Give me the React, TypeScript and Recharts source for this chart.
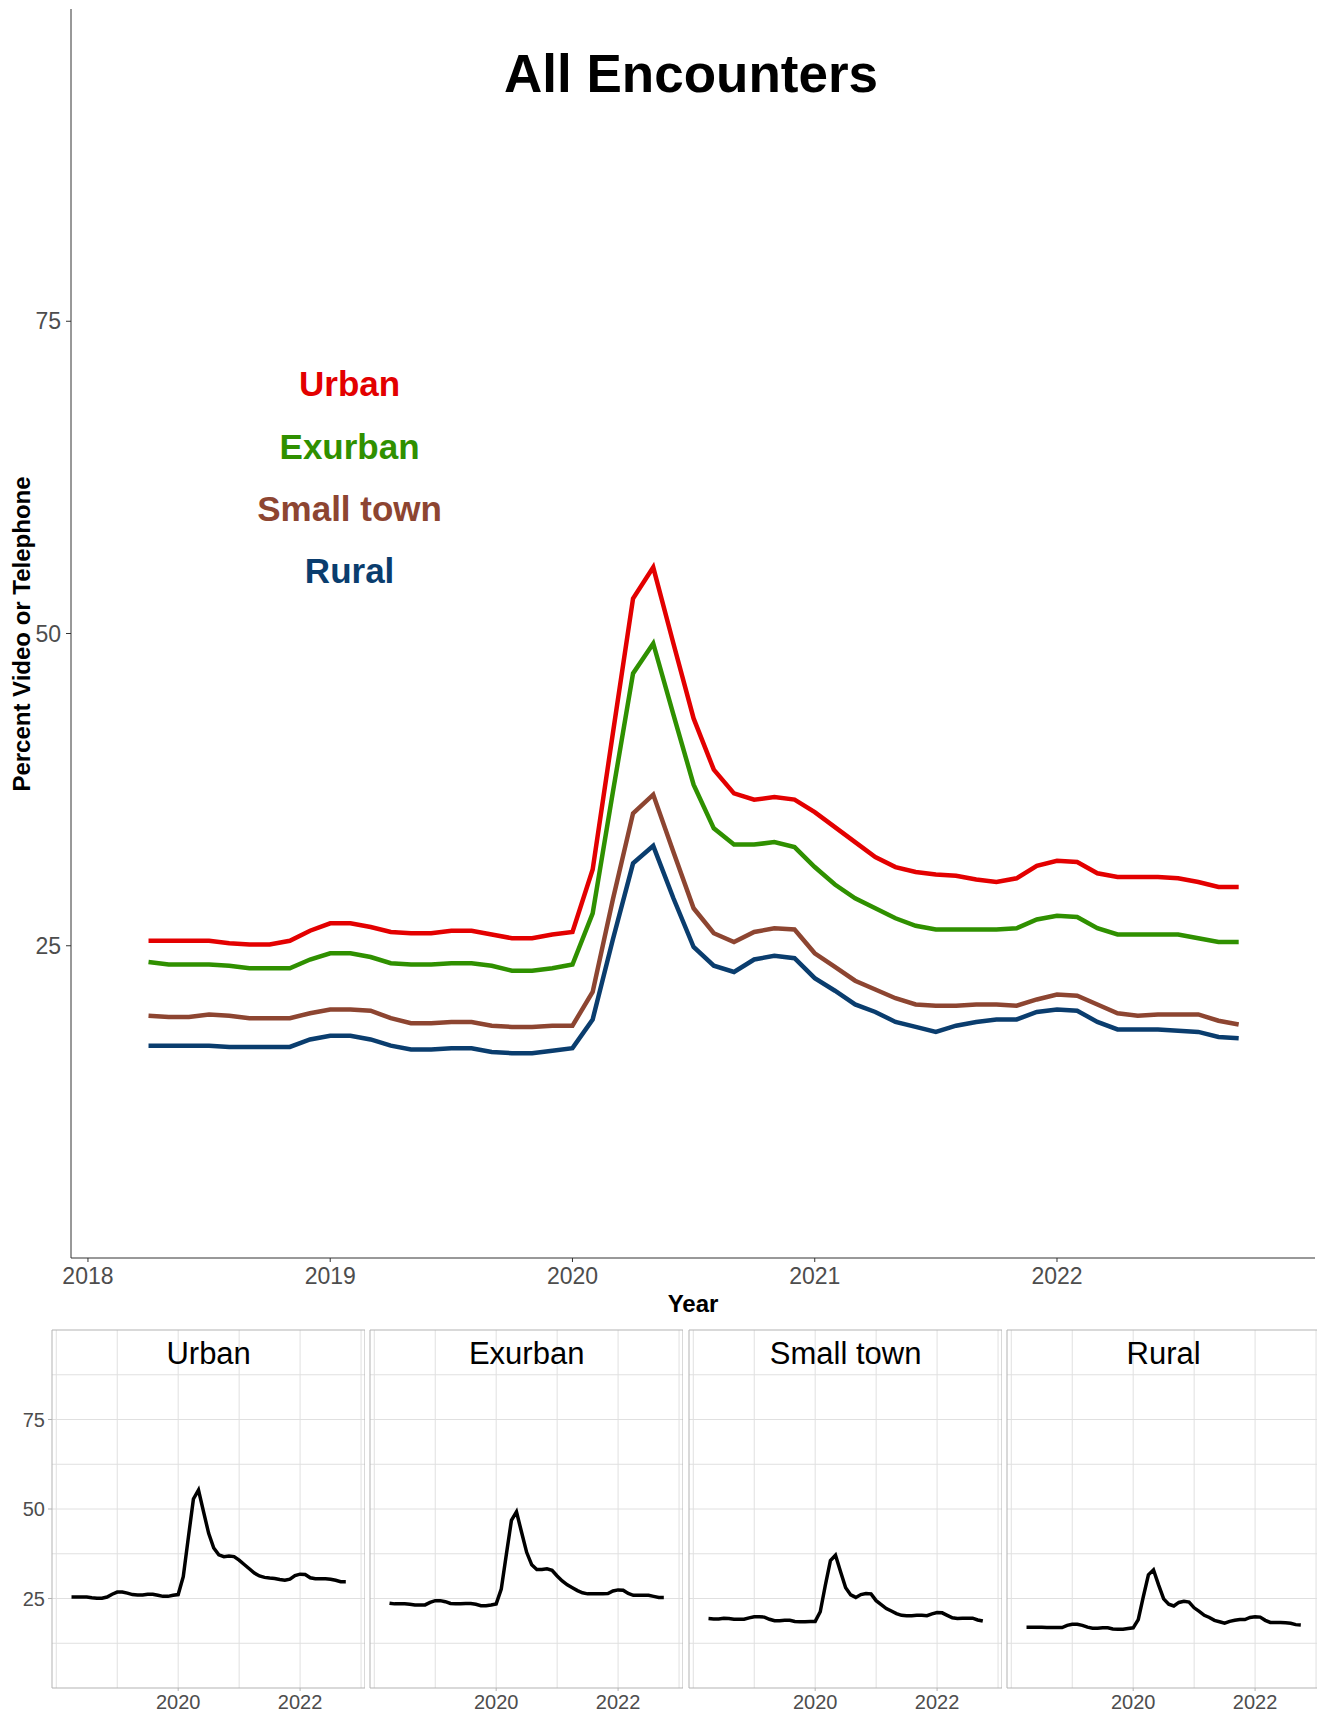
import { LineChart, Line, XAxis, YAxis, CartesianGrid, ReferenceDot, ReferenceArea } from "recharts"

// monthly share of encounters by video or telephone, Apr 2018 – Oct 2022
const months = [
  "2018-04", "2018-05", "2018-06", "2018-07", "2018-08", "2018-09", "2018-10", "2018-11", "2018-12",
  "2019-01", "2019-02", "2019-03", "2019-04", "2019-05", "2019-06", "2019-07", "2019-08", "2019-09", "2019-10", "2019-11", "2019-12",
  "2020-01", "2020-02", "2020-03", "2020-04", "2020-05", "2020-06", "2020-07", "2020-08", "2020-09", "2020-10", "2020-11", "2020-12",
  "2021-01", "2021-02", "2021-03", "2021-04", "2021-05", "2021-06", "2021-07", "2021-08", "2021-09", "2021-10", "2021-11", "2021-12",
  "2022-01", "2022-02", "2022-03", "2022-04", "2022-05", "2022-06", "2022-07", "2022-08", "2022-09", "2022-10",
]

const urban = [
  25.4, 25.4, 25.4, 25.4, 25.2, 25.1, 25.1, 25.4, 26.2, 26.8,
  26.8, 26.5, 26.1, 26.0, 26.0, 26.2, 26.2, 25.9, 25.6, 25.6,
  25.9, 26.1, 31.1, 42.0, 52.8, 55.3, 49.2, 43.2, 39.1, 37.2,
  36.7, 36.9, 36.7, 35.7, 34.5, 33.3, 32.1, 31.3, 30.9, 30.7,
  30.6, 30.3, 30.1, 30.4, 31.4, 31.8, 31.7, 30.8, 30.5, 30.5,
  30.5, 30.4, 30.1, 29.7, 29.7,
]
const exurban = [
  23.7, 23.5, 23.5, 23.5, 23.4, 23.2, 23.2, 23.2, 23.9, 24.4,
  24.4, 24.1, 23.6, 23.5, 23.5, 23.6, 23.6, 23.4, 23.0, 23.0,
  23.2, 23.5, 27.6, 37.3, 46.8, 49.2, 43.5, 37.9, 34.4, 33.1,
  33.1, 33.3, 32.9, 31.3, 29.9, 28.8, 28.0, 27.2, 26.6, 26.3,
  26.3, 26.3, 26.3, 26.4, 27.1, 27.4, 27.3, 26.4, 25.9, 25.9,
  25.9, 25.9, 25.6, 25.3, 25.3,
]
const smallTown = [
  19.4, 19.3, 19.3, 19.5, 19.4, 19.2, 19.2, 19.2, 19.6, 19.9,
  19.9, 19.8, 19.2, 18.8, 18.8, 18.9, 18.9, 18.6, 18.5, 18.5,
  18.6, 18.6, 21.3, 28.7, 35.6, 37.1, 32.5, 28.0, 26.0, 25.3,
  26.1, 26.4, 26.3, 24.4, 23.3, 22.2, 21.5, 20.8, 20.3, 20.2,
  20.2, 20.3, 20.3, 20.2, 20.7, 21.1, 21.0, 20.3, 19.6, 19.4,
  19.5, 19.5, 19.5, 19.0, 18.7,
]
const rural = [
  17.0, 17.0, 17.0, 17.0, 16.9, 16.9, 16.9, 16.9, 17.5, 17.8,
  17.8, 17.5, 17.0, 16.7, 16.7, 16.8, 16.8, 16.5, 16.4, 16.4,
  16.6, 16.8, 19.1, 25.5, 31.6, 33.0, 28.8, 24.9, 23.4, 22.9,
  23.9, 24.2, 24.0, 22.4, 21.4, 20.3, 19.7, 18.9, 18.5, 18.1,
  18.6, 18.9, 19.1, 19.1, 19.7, 19.9, 19.8, 18.9, 18.3, 18.3,
  18.3, 18.2, 18.1, 17.7, 17.6,
]

const yearTicks = [2018, 2019, 2020, 2021, 2022]
const percentTicks = [25, 50, 75]
const facetYearTicks = [2020, 2022]
const facetGridYears = [2018, 2019, 2020, 2021, 2022, 2023]
const facetGridPercents = [12.5, 25, 37.5, 50, 62.5, 75, 87.5]

const FONT = '"Liberation Sans", Arial, Helvetica, sans-serif'
const X_DOMAIN: [number, number] = [2017.93, 2023.065]

const series = [
  { key: "urban", name: "Urban", color: "#E30000", labelAt: 70 },
  { key: "exurban", name: "Exurban", color: "#2F9000", labelAt: 65 },
  { key: "smallTown", name: "Small town", color: "#8D4531", labelAt: 60 },
  { key: "rural", name: "Rural", color: "#0A3D6E", labelAt: 55 },
]

function toYear(m: string) {
  const [y, mo] = m.split("-").map(Number)
  return y + (mo - 1) / 12
}

const rows = months.map((m, i) => ({
  t: toYear(m),
  urban: urban[i],
  exurban: exurban[i],
  smallTown: smallTown[i],
  rural: rural[i],
}))

const tickText = { fill: "#4d4d4d", fontSize: 23 }
const facetTickText = { fill: "#4d4d4d", fontSize: 20 }

function MainChart() {
  return (
    <LineChart width={1317} height={1318} data={rows} margin={{ top: 9, right: 2, bottom: 0, left: 0 }}>
      <XAxis
        type="number"
        dataKey="t"
        domain={X_DOMAIN}
        allowDataOverflow
        ticks={yearTicks}
        height={60}
        stroke="#333"
        tickSize={4}
        tickMargin={6}
        tick={tickText}
      />
      <YAxis
        type="number"
        domain={[0, 100]}
        allowDataOverflow
        ticks={percentTicks}
        width={71}
        stroke="#333"
        tickSize={5}
        tickMargin={5}
        tick={tickText}
      />
      {series.map((s) => (
        <Line
          key={s.key}
          type="linear"
          dataKey={s.key}
          stroke={s.color}
          strokeWidth={4.5}
          dot={false}
          activeDot={false}
          isAnimationActive={false}
        />
      ))}
      {series.map((s) => (
        <ReferenceDot
          key={"lbl-" + s.key}
          x={2019.08}
          y={s.labelAt}
          r={0}
          fill="none"
          stroke="none"
          label={{ value: s.name, position: "center", fill: s.color, fontSize: 35, fontWeight: 700 }}
        />
      ))}
    </LineChart>
  )
}

function Facet({ s, left, showPercents }: { s: (typeof series)[number]; left: number; showPercents: boolean }) {
  return (
    <div style={{ position: "absolute", left, top: 1325 }}>
      <LineChart
        width={365}
        height={389}
        data={rows}
        margin={{ top: 5, right: 0, bottom: 0, left: showPercents ? 0 : 52 }}
      >
        <CartesianGrid
          horizontalValues={facetGridPercents}
          verticalValues={facetGridYears}
          stroke="#e0e0e0"
          strokeWidth={1}
        />
        <XAxis
          type="number"
          dataKey="t"
          domain={X_DOMAIN}
          allowDataOverflow
          ticks={facetYearTicks}
          height={26}
          axisLine={false}
          stroke="#b3b3b3"
          tickSize={3}
          tickMargin={4}
          tick={facetTickText}
        />
        <YAxis
          type="number"
          hide={!showPercents}
          domain={[0, 100]}
          allowDataOverflow
          ticks={percentTicks}
          width={52}
          axisLine={false}
          stroke="#b3b3b3"
          tickSize={4}
          tickMargin={3}
          tick={facetTickText}
        />
        <ReferenceArea x1={X_DOMAIN[0]} x2={X_DOMAIN[1]} y1={0} y2={100} fill="none" stroke="#b3b3b3" strokeWidth={1} />
        <Line
          type="linear"
          dataKey={s.key}
          stroke="#000"
          strokeWidth={3.5}
          dot={false}
          activeDot={false}
          isAnimationActive={false}
        />
        <ReferenceDot
          x={2020.5}
          y={93.7}
          r={0}
          fill="none"
          stroke="none"
          label={{ value: s.name, position: "center", fill: "#000", fontSize: 31 }}
        />
      </LineChart>
    </div>
  )
}

export default function App() {
  return (
    <div
      style={{
        position: "absolute",
        left: 0,
        top: 0,
        width: 1317,
        height: 1714,
        overflow: "hidden",
        background: "#fff",
        fontFamily: FONT,
      }}
    >
      <div style={{ position: "absolute", left: 0, top: 0 }}>
        <MainChart />
      </div>
      {series.map((s, i) => (
        <Facet key={s.key} s={s} left={i * 318.4} showPercents={i === 0} />
      ))}
      <svg
        width={1317}
        height={1714}
        style={{ position: "absolute", left: 0, top: 0, pointerEvents: "none" }}
      >
        <text x={691} y={92} textAnchor="middle" fontSize={53} fontWeight={700} fill="#000">
          All Encounters
        </text>
        <text transform="translate(30,634) rotate(-90)" textAnchor="middle" fontSize={24} fontWeight={700} fill="#000">
          Percent Video or Telephone
        </text>
        <text x={693} y={1312} textAnchor="middle" fontSize={24} fontWeight={700} fill="#000">
          Year
        </text>
      </svg>
    </div>
  )
}
